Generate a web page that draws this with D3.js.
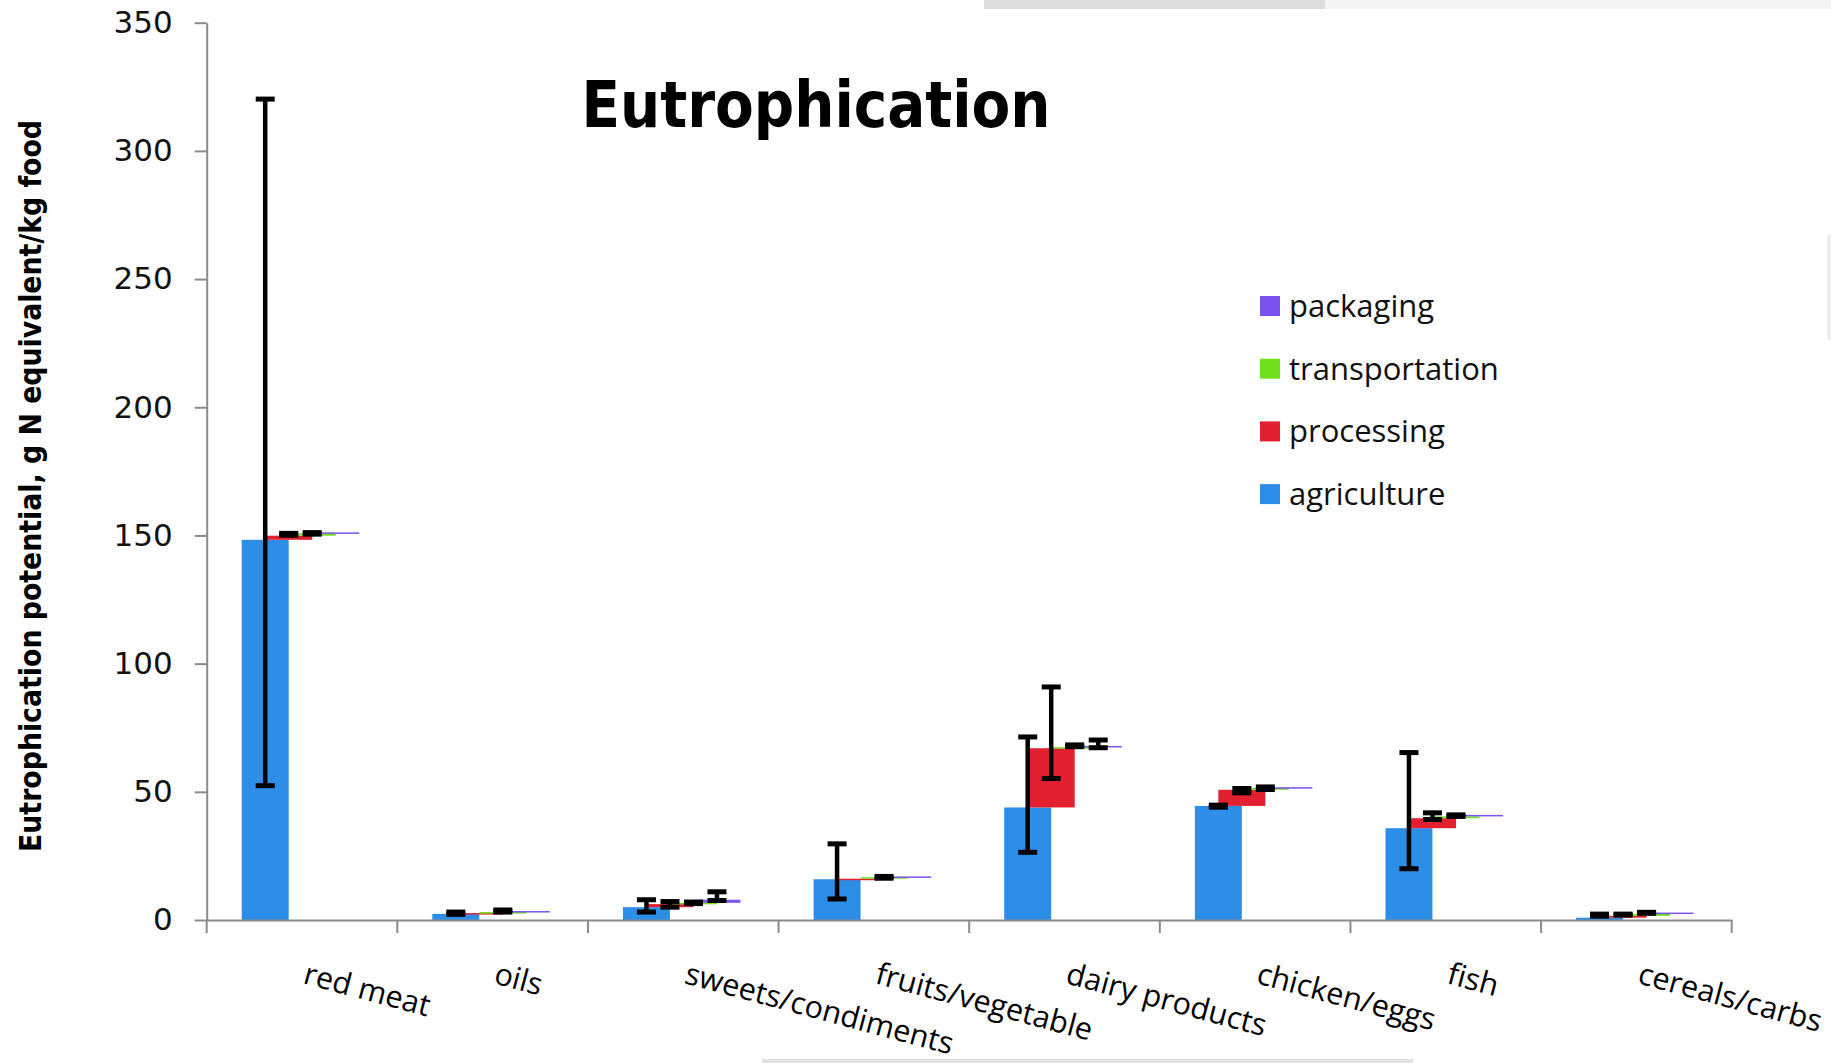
<!DOCTYPE html>
<html>
<head>
<meta charset="utf-8">
<script src="https://cdn.jsdelivr.net/npm/d3@7/dist/d3.min.js"></script>
<style>
  html, body { margin: 0; padding: 0; background: #fff; }
  svg { display: block; }
</style>
</head>
<body>
<svg id="chart" width="1831" height="1063"></svg>
<script>
// Food categories along the x axis
const categories = ["red meat", "oils", "sweets/condiments", "fruits/vegetable",
  "dairy products", "chicken/eggs", "fish", "cereals/carbs"];

// Life-cycle stage contributions (g N equivalent / kg food)
const agriculture    = [148.3, 2.4, 5.0, 15.9, 43.9, 44.5, 35.8, 0.9];
const processing     = [1.6, 0.3, 1.2, 0.2, 23.1, 6.3, 3.9, 0.7];
const transportation = [0.9, 0.4, 0.5, 0.6, 0.4, 0.7, 0.7, 0.8];
const packaging      = [0.4, 0.4, 1.2, 0.3, 0.5, 0.3, 0.6, 0.5];

// Error ranges [low, high] for each stage (null = none shown)
const agricultureRange    = [[52.4, 320.2], [2.2, 3.1], [3.1, 7.9], [8.2, 29.7], [26.4, 71.4], [44.0, 44.8], [20.0, 65.3], [1.5, 2.3]];
const processingRange     = [[150.1, 150.8], null, [5.0, 7.2], null, [55.2, 90.9], [49.6, 51.3], [39.2, 41.8], [1.9, 2.3]];
const transportationRange = [[150.5, 151.1], [3.1, 3.9], [6.4, 7.0], [16.3, 17.0], [67.6, 68.3], [50.9, 51.9], [40.4, 41.0], [2.6, 3.0]];
const packagingRange      = [null, null, [7.6, 11.0], null, [67.2, 70.2], null, null, null];

const yTicks = [0, 50, 100, 150, 200, 250, 300, 350];

const stages = [
  { name: "agriculture",    values: agriculture,    range: agricultureRange,    color: "#2d8ee8" },
  { name: "processing",     values: processing,     range: processingRange,     color: "#e3202f" },
  { name: "transportation", values: transportation, range: transportationRange, color: "#72e01c" },
  { name: "packaging",      values: packaging,      range: packagingRange,      color: "#7a52ee" }
];

const svg = d3.select("#chart");
svg.append("rect").attr("width", 1831).attr("height", 1063).attr("fill", "#fff");

// faint page edges around the figure
svg.append("rect").attr("x", 984).attr("y", 0).attr("width", 847).attr("height", 9).attr("fill", "#f3f3f3");
svg.append("rect").attr("x", 984).attr("y", 0).attr("width", 341).attr("height", 9).attr("fill", "#dcdcdc");
svg.append("rect").attr("x", 762).attr("y", 1059).attr("width", 651).attr("height", 4).attr("fill", "#e2e2e2");
svg.append("rect").attr("x", 1827).attr("y", 235).attr("width", 4).attr("height", 105).attr("fill", "#eeeeee");

const plot = { left: 206.7, right: 1731.7, top: 22.7, bottom: 920 };

const x = d3.scaleBand().domain(categories).range([plot.left, plot.right]).padding(0);
const y = d3.scaleLinear().domain([0, 350]).range([plot.bottom, plot.top]);

const bw = x.bandwidth();
const barOffset = bw * 0.1836;   // gap before first bar in a group
const barStep = bw * 0.1233;     // shift between overlapping series
const barWidth = bw * 0.2466;

// cumulative bases: each stage floats on top of the previous ones
const bases = categories.map(() => 0);
const segments = [];
stages.forEach((s, si) => {
  categories.forEach((c, ci) => {
    const base = bases[ci];
    const top = base + s.values[ci];
    segments.push({ stage: s, si, c, ci, base, top, range: s.range[ci] });
    bases[ci] = top;
  });
});

// y axis
const yAxis = svg.append("g")
  .attr("transform", `translate(${plot.left},0)`)
  .call(d3.axisLeft(y).tickValues(yTicks).tickSize(12).tickSizeOuter(0).tickPadding(22));
yAxis.select(".domain").attr("stroke", "#8a8a8a").attr("stroke-width", 2);
yAxis.selectAll(".tick line").attr("stroke", "#8a8a8a").attr("stroke-width", 2);
yAxis.selectAll(".tick text")
  .attr("font-family", "'DejaVu Sans', Verdana, sans-serif")
  .attr("font-size", 31)
  .attr("fill", "#111");

// bars
svg.append("g").selectAll("rect")
  .data(segments)
  .join("rect")
  .attr("x", d => x(d.c) + barOffset + d.si * barStep)
  .attr("width", barWidth)
  .attr("y", d => y(d.top))
  .attr("height", d => Math.max(1.5, y(d.base) - y(d.top)))
  .attr("fill", d => d.stage.color);

// x axis: baseline with ticks on category boundaries
const xAxis = svg.append("g").attr("transform", `translate(0,${plot.bottom})`)
  .call(d3.axisBottom(x).tickSize(0).tickFormat(""));
xAxis.select(".domain").attr("stroke", "#8a8a8a").attr("stroke-width", 2);
svg.append("g").selectAll("line")
  .data(categories.concat(["__end"]))
  .join("line")
  .attr("x1", d => d === "__end" ? plot.right : x(d))
  .attr("x2", d => d === "__end" ? plot.right : x(d))
  .attr("y1", plot.bottom)
  .attr("y2", plot.bottom + 13)
  .attr("stroke", "#8a8a8a")
  .attr("stroke-width", 2);

// error bars
const err = svg.append("g").selectAll("g")
  .data(segments.filter(d => d.range))
  .join("g")
  .attr("transform", d => `translate(${x(d.c) + barOffset + d.si * barStep + barWidth / 2},0)`);
err.append("line")
  .attr("y1", d => y(d.range[0])).attr("y2", d => y(d.range[1]))
  .attr("stroke", "#000").attr("stroke-width", 4.5);
err.append("line")
  .attr("x1", -9.5).attr("x2", 9.5)
  .attr("y1", d => y(d.range[0])).attr("y2", d => y(d.range[0]))
  .attr("stroke", "#000").attr("stroke-width", 5);
err.append("line")
  .attr("x1", -9.5).attr("x2", 9.5)
  .attr("y1", d => y(d.range[1])).attr("y2", d => y(d.range[1]))
  .attr("stroke", "#000").attr("stroke-width", 5);

// rotated category labels
svg.append("g").selectAll("text")
  .data(categories)
  .join("text")
  .attr("transform", d => `translate(${x(d) + bw / 2},983) rotate(15)`)
  .attr("font-family", "'Open Sans', sans-serif")
  .attr("font-size", 30.5)
  .attr("fill", "#000")
  .text(d => d);

// y axis title
svg.append("text")
  .attr("transform", "translate(41,486) rotate(-90)")
  .attr("text-anchor", "middle")
  .attr("font-family", "'DejaVu Sans Condensed', 'DejaVu Sans', sans-serif")
  .attr("font-weight", "bold")
  .attr("font-size", 31)
  .attr("textLength", 732)
  .attr("lengthAdjust", "spacingAndGlyphs")
  .attr("fill", "#000")
  .text("Eutrophication potential, g N equivalent/kg food");

// chart title
svg.append("text")
  .attr("x", 816).attr("y", 127)
  .attr("text-anchor", "middle")
  .attr("font-family", "'DejaVu Sans Condensed', 'DejaVu Sans', sans-serif")
  .attr("font-weight", "bold")
  .attr("font-size", 64)
  .attr("textLength", 469)
  .attr("lengthAdjust", "spacingAndGlyphs")
  .attr("fill", "#000")
  .text("Eutrophication");

// legend, listed top-down in reverse stacking order
const legend = svg.append("g").selectAll("g")
  .data(stages.slice().reverse())
  .join("g")
  .attr("transform", (d, i) => `translate(1260,${306 + i * 62.7})`);
legend.append("rect")
  .attr("x", 0).attr("y", -10).attr("width", 20).attr("height", 20)
  .attr("fill", d => d.color);
legend.append("text")
  .attr("x", 29).attr("y", 11)
  .attr("font-family", "'Open Sans', sans-serif")
  .attr("font-size", 31)
  .attr("fill", "#111")
  .text(d => d.name);
</script>
</body>
</html>
